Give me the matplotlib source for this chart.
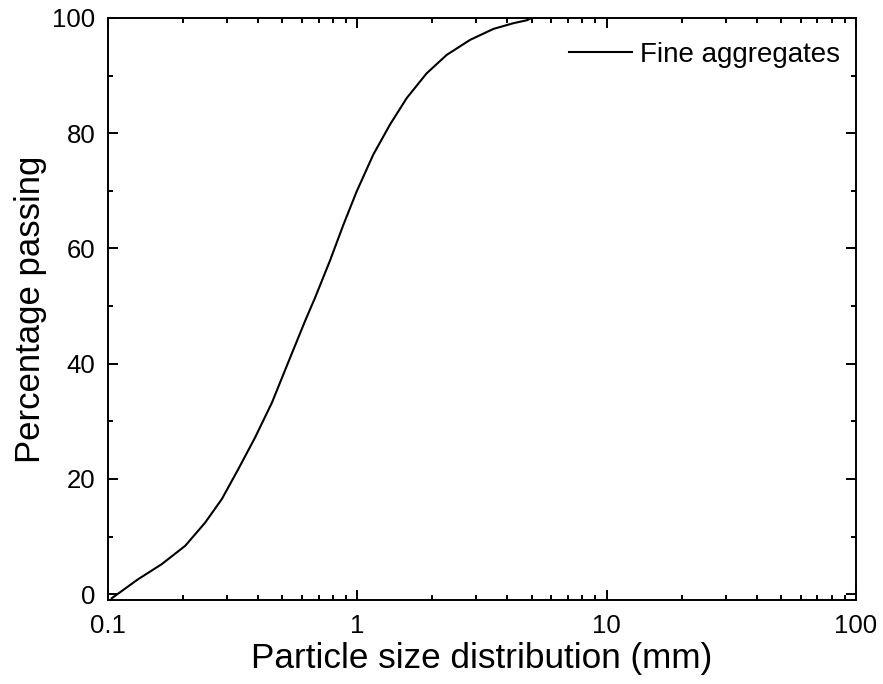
import matplotlib
matplotlib.use("Agg")
import matplotlib.pyplot as plt
from matplotlib.ticker import LogLocator, FixedLocator, FuncFormatter

plt.rcParams['font.family'] = ['Liberation Sans', 'DejaVu Sans']

size_mm = [0.1035, 0.132, 0.164, 0.204, 0.245, 0.286, 0.333, 0.389, 0.454, 0.529,
           0.617, 0.676, 0.777, 0.879, 0.994, 1.159, 1.352, 1.578, 1.897, 2.284,
           2.833, 3.513, 4.230, 4.780, 5.000]
passing = [-0.7, 2.6, 5.2, 8.4, 12.4, 16.5, 21.7, 27.2, 33.2, 40.3,
           47.4, 51.4, 57.9, 64.1, 69.9, 76.3, 81.5, 86.1, 90.4, 93.6,
           96.2, 98.1, 99.1, 99.6, 100.0]
series_label = "Fine aggregates"
x_ticks = [0.1, 1, 10, 100]
x_tick_labels = ["0.1", "1", "10", "100"]
y_ticks = [0, 20, 40, 60, 80, 100]
y_minor_ticks = [10, 30, 50, 70, 90]

fig = plt.figure(figsize=(8.83, 6.84), dpi=100)
ax = fig.add_axes([0.1223, 0.1228, 0.8471, 0.8509])

ax.plot(size_mm, passing, color='black', lw=1.5, label=series_label,
        solid_joinstyle='round')
ax.set_xscale('log')
ax.set_xlim(0.1, 100)
ax.set_ylim(-1, 100)

ax.xaxis.set_major_locator(FixedLocator(x_ticks))
ax.xaxis.set_major_formatter(FuncFormatter(
    lambda v, p: x_tick_labels[x_ticks.index(v)] if v in x_ticks else ""))
ax.xaxis.set_minor_locator(LogLocator(base=10, subs=range(2, 10)))
ax.xaxis.set_minor_formatter(FuncFormatter(lambda v, p: ""))
ax.yaxis.set_major_locator(FixedLocator(y_ticks))
ax.yaxis.set_minor_locator(FixedLocator(y_minor_ticks))

ax.tick_params(which='both', direction='in', top=True, right=True, width=1.4,
               labelsize=18.5)
ax.tick_params(which='major', length=7.2)
ax.tick_params(which='minor', length=3.6)
ax.tick_params(axis='x', which='major', pad=10)
ax.tick_params(axis='y', which='major', pad=9)
for s in ax.spines.values():
    s.set_linewidth(1.4)

ax.set_xlabel("Particle size distribution (mm)", fontsize=25.3, labelpad=3)
ax.set_ylabel("Percentage passing", fontsize=25, labelpad=4)

leg = ax.legend(loc='center right', frameon=False, fontsize=20, handlelength=2.27,
                handletextpad=0.29, bbox_to_anchor=(0.9933, 0.937),
                borderaxespad=0.0)

fig.savefig("out.png", dpi=100)
